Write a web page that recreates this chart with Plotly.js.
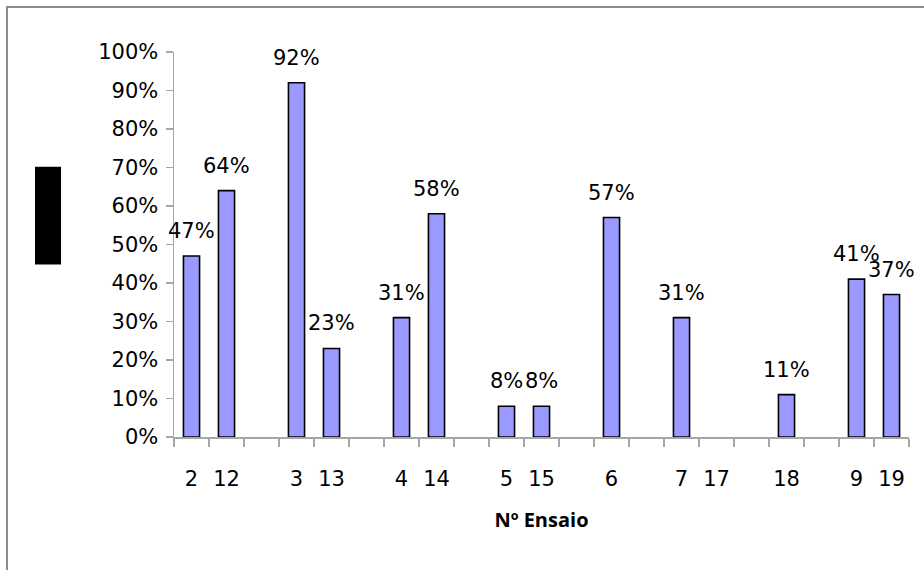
<!DOCTYPE html>
<html>
<head>
<meta charset="utf-8">
<script src="https://cdn.plot.ly/plotly-3.0.1.min.js"></script>
<style>
  html, body { margin: 0; padding: 0; background: #fff; overflow: hidden; }
  #wrap { position: relative; width: 924px; height: 570px; overflow: hidden; }
  #chart { width: 924px; height: 570px; }
  /* outer chart frame; its right and bottom edges run past the page */
  #frame {
    position: absolute; left: 6px; top: 6px; width: 960px; height: 600px;
    border-left: 2px solid #8c8c8c; border-top: 2px solid #8c8c8c;
    pointer-events: none;
  }
</style>
</head>
<body>
<div id="wrap">
  <div id="chart"></div>
  <div id="frame"></div>
</div>
<script>
// Test numbers along the axis; blank slots keep the pairs grouped.
var ensaios = ["2", "12", " ", "3", "13", "  ", "4", "14", "   ", "5", "15", "    ",
               "6", "     ", "7", "17", "      ", "18", "       ", "9", "19"];
// Share for each test (null = no bar in that slot).
var valores = [0.47, 0.64, null, 0.92, 0.23, null, 0.31, 0.58, null, 0.08, 0.08, null,
               0.57, null, 0.31, null, null, 0.11, null, 0.41, 0.37];
var yTicks = [0, 0.1, 0.2, 0.3, 0.4, 0.5, 0.6, 0.7, 0.8, 0.9, 1.0];

var tickFont = { family: "DejaVu Sans, Verdana, sans-serif", size: 21, color: "#000" };

var bars = {
  type: "bar",
  x: ensaios,
  y: valores,
  width: 0.46,
  marker: { color: "#9999FF", line: { color: "#000", width: 1.6 } },
  hoverinfo: "x+y"
};

// Percentage labels above each bar (x given as the category index)
var rotulos = [];
ensaios.forEach(function (c, i) {
  if (valores[i] === null) return;
  rotulos.push({
    x: i, y: valores[i], xref: "x", yref: "y",
    text: Math.round(valores[i] * 100) + "%",
    showarrow: false, yanchor: "bottom", yshift: 11,
    font: tickFont
  });
});

var layout = {
  width: 924, height: 570,
  margin: { l: 174, r: 15, t: 52, b: 133 },
  paper_bgcolor: "#fff", plot_bgcolor: "#fff",
  showlegend: false,
  bargap: 0.54,
  xaxis: {
    type: "category",
    categoryorder: "array", categoryarray: ensaios,
    range: [-0.5, ensaios.length - 0.5],
    showline: true, linecolor: "#a6a6a6", linewidth: 1.5,
    ticks: "outside", tickson: "boundaries", ticklen: 8, tickcolor: "#a6a6a6", tickwidth: 1.2,
    tickangle: 0,
    ticklabelstandoff: 22,
    tickfont: tickFont,
    showgrid: false, zeroline: false,
    title: {
      text: "Nº Ensaio", standoff: 23,
      font: { family: "Open Sans, sans-serif", size: 20, color: "#000", weight: "bold" }
    }
  },
  yaxis: {
    range: [0, 1],
    tickvals: yTicks, tickformat: ".0%",
    showline: true, linecolor: "#a6a6a6", linewidth: 1.5,
    ticks: "outside", ticklen: 7, tickcolor: "#a6a6a6", tickwidth: 1.2,
    ticklabelstandoff: 3,
    tickfont: tickFont,
    showgrid: false, zeroline: false
  },
  annotations: rotulos,
  shapes: [
    // solid block where the vertical axis caption sits
    { type: "rect", xref: "paper", yref: "paper",
      x0: -0.1891, x1: -0.1537, y0: 0.4478, y1: 0.7018,
      fillcolor: "#000", line: { width: 0 } }
  ]
};

Plotly.newPlot("chart", [bars], layout, { displayModeBar: false, staticPlot: true });
</script>
</body>
</html>
